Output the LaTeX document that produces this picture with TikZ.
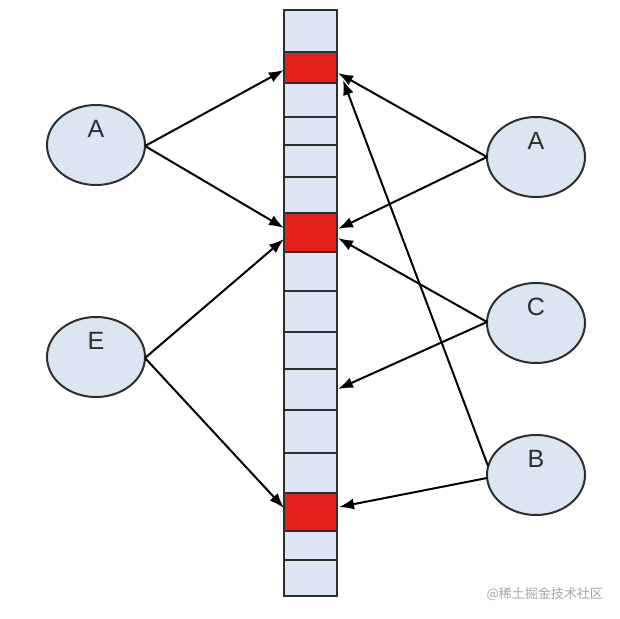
\documentclass[tikz,border=0pt]{standalone}
\usepackage{fontspec}
\setmainfont{Liberation Sans}
\newfontfamily\cjk{Noto Sans CJK SC}
\usetikzlibrary{shapes.geometric,arrows.meta}
\definecolor{cellblue}{HTML}{DCE6F2}
\definecolor{cellred}{HTML}{E3201B}
\definecolor{edge}{HTML}{2E2E2E}
\tikzset{
  ellip/.style={ellipse, draw=edge, line width=2pt, fill=cellblue, minimum width=98pt, minimum height=80pt, inner sep=0pt},
  lbl/.style={font=\fontsize{25}{25}\selectfont, text=edge, inner sep=0pt},
  cell/.style={rectangle, draw=edge, line width=2pt, fill=cellblue, minimum width=53pt, inner sep=0pt},
  redcell/.style={cell, fill=cellred},
  arr/.style={line width=2pt, black, -{Latex[length=15pt,width=11pt]}}
}
\begin{document}
\begin{tikzpicture}[x=1pt,y=-1pt]
\useasboundingbox (0,0) rectangle (620,618);
\fill[white] (0,0) rectangle (620,618);
% column cells
\foreach \a/\b/\n/\s in {10/52/c1/cell,52/83/c2/redcell,83/117/c3/cell,117/145/c4/cell,145/177/c5/cell,177/213/c6/cell,213/252/c7/redcell,252/291/c8/cell,291/332/c9/cell,332/369/c10/cell,369/410/c11/cell,410/453/c12/cell,453/493/c13/cell,493/531/c14/redcell,531/560/c15/cell,560/596/c16/cell}{
  \pgfmathsetmacro{\mid}{(\a+\b)/2}
  \pgfmathsetmacro{\h}{\b-\a}
  \node[\s, minimum height=\h pt] (\n) at (310.5,\mid) {};
}
% ellipses
\node[ellip] (LA) at (96,145) {};
\node[lbl] at (96,129) {A};
\node[ellip] (LE) at (96,357) {};
\node[lbl] at (96,341) {E};
\node[ellip] (RA) at (536,157) {};
\node[lbl] at (536,141) {A};
\node[ellip] (RC) at (536,323) {};
\node[lbl] at (536,307) {C};
\node[ellip] (RB) at (536,475) {};
\node[lbl] at (536,459) {B};
% anchor coordinates
\coordinate (la) at (145,146);
\coordinate (le) at (145,358);
\coordinate (ra) at (487,157);
\coordinate (rc) at (487,322);
\coordinate (rb1) at (488,466);
\coordinate (rb2) at (487,478);
\coordinate (t1) at (284,70);
\coordinate (t2) at (284,228);
\coordinate (t3) at (284,239);
\coordinate (t4) at (284,508);
\coordinate (u1) at (338,73);
\coordinate (u2) at (343,80);
\coordinate (u3) at (338,229);
\coordinate (u4) at (338,238);
\coordinate (u5) at (338,389);
\coordinate (u6) at (339,507);
% arrows
\draw[arr] (la) -- (t1);
\draw[arr] (la) -- (t2);
\draw[arr] (le) -- (t3);
\draw[arr] (le) -- (t4);
\draw[arr] (ra) -- (u1);
\draw[arr] (ra) -- (u3);
\draw[arr] (rc) -- (u4);
\draw[arr] (rc) -- (u5);
\draw[arr] (rb1) -- (u2);
\draw[arr] (rb2) -- (u6);
% watermark
\node[font=\cjk\fontsize{13}{13}\selectfont, text=black!35, anchor=east, inner sep=0pt] (wm) at (603,594) {@稀土掘金技术社区};
\end{tikzpicture}
\end{document}
